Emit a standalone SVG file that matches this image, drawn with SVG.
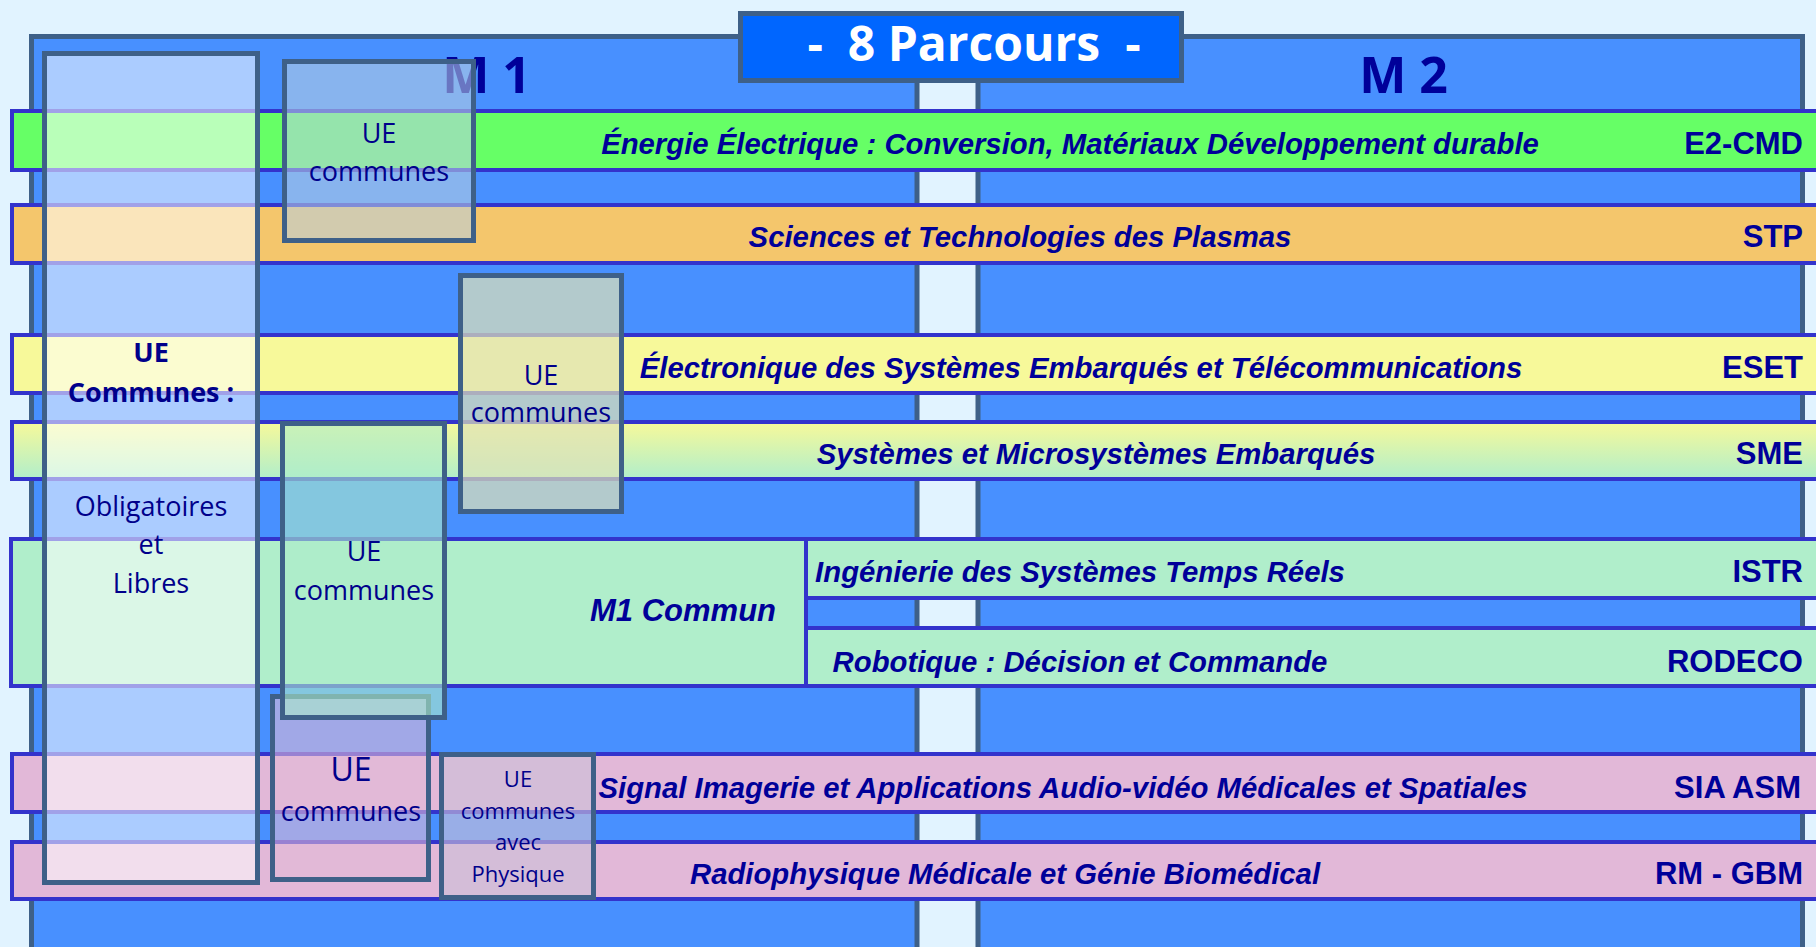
<svg xmlns="http://www.w3.org/2000/svg" width="1816" height="947" viewBox="0 0 1816 947">
<defs>
<linearGradient id="gSME" x1="0" y1="0" x2="0" y2="1">
<stop offset="0" stop-color="#F7F99A"/>
<stop offset="1" stop-color="#B0EECB"/>
</linearGradient>
</defs>
<style>
.panel{fill:#4890FF;stroke:#3E6088;stroke-width:5}
.row{stroke:#3333CC;stroke-width:4}
.lbl{font-family:"Liberation Sans",Arial,sans-serif;font-weight:bold;font-style:italic;font-size:29.3px;fill:#000099;text-anchor:middle}
.code{font-family:"Liberation Sans",Arial,sans-serif;font-weight:bold;font-size:31px;fill:#000099;text-anchor:end}
.mh{font-family:"Open Sans","Noto Sans",sans-serif;font-weight:bold;font-size:50px;fill:#000099;text-anchor:middle}
.ov{stroke:#3E6088;stroke-width:5}
.ue{font-family:"Open Sans","Noto Sans",sans-serif;font-size:27px;fill:#00008B;text-anchor:middle}
.ueb{font-family:"Open Sans","Noto Sans",sans-serif;font-weight:bold;font-size:27px;fill:#00008B;text-anchor:middle}
</style>
<rect x="0" y="0" width="1816" height="947" fill="#E1F3FF"/>

<g id="panel-m1">
<rect class="panel" x="31.5" y="36.5" width="885.5" height="1000"/>
</g>
<g id="panel-m2">
<rect class="panel" x="978" y="36.5" width="824.5" height="1000"/>
</g>

<g id="title">
<rect x="740.5" y="13.5" width="441" height="67" fill="#0066FF" stroke="#3E6088" stroke-width="5"/>
<text x="974" y="61" xml:space="preserve" style="white-space:pre" font-family="'Open Sans','Noto Sans',sans-serif" font-weight="bold" font-size="48" fill="#FFFFFF" text-anchor="middle">-  8 Parcours  -</text>
</g>

<g id="label-m1"><text class="mh" x="486.5" y="93">M 1</text></g>
<g id="label-m2"><text class="mh" x="1403.5" y="93">M 2</text></g>

<g id="row-e2cmd">
<rect class="row" x="12" y="111" width="1820" height="59" fill="#66FF66"/>
<text class="lbl" x="1070" y="153.5">Énergie Électrique : Conversion, Matériaux Développement durable</text>
<text class="code" x="1803" y="153.5">E2-CMD</text>
</g>
<g id="row-stp">
<rect class="row" x="12" y="205" width="1820" height="58" fill="#F4C66C"/>
<text class="lbl" x="1020" y="246.5">Sciences et Technologies des Plasmas</text>
<text class="code" x="1803" y="246.5">STP</text>
</g>
<g id="row-eset">
<rect class="row" x="12" y="335" width="1820" height="58" fill="#F7F99A"/>
<text class="lbl" x="1081" y="378">Électronique des Systèmes Embarqués et Télécommunications</text>
<text class="code" x="1803" y="378">ESET</text>
</g>
<g id="row-sme">
<rect class="row" x="12" y="422" width="1820" height="57" fill="url(#gSME)"/>
<text class="lbl" x="1096" y="464">Systèmes et Microsystèmes Embarqués</text>
<text class="code" x="1803" y="464">SME</text>
</g>
<g id="m1-commun">
<rect class="row" x="11" y="539" width="795" height="147" fill="#B0EECB"/>
<text class="lbl" x="683" y="621" style="font-size:31px">M1 Commun</text>
</g>
<g id="row-istr">
<rect class="row" x="806" y="539" width="1026" height="59" fill="#B0EECB"/>
<text class="lbl" x="1080" y="581.5">Ingénierie des Systèmes Temps Réels</text>
<text class="code" x="1803" y="581.5">ISTR</text>
</g>
<g id="row-rodeco">
<rect class="row" x="806" y="628" width="1026" height="58" fill="#B0EECB"/>
<text class="lbl" x="1080" y="671.5">Robotique : Décision et Commande</text>
<text class="code" x="1803" y="671.5">RODECO</text>
</g>
<g id="row-sia">
<rect class="row" x="12" y="754" width="1820" height="58" fill="#E2B8D8"/>
<text class="lbl" x="1063" y="797.5">Signal Imagerie et Applications Audio-vidéo Médicales et Spatiales</text>
<text class="code" x="1801" y="797.5">SIA ASM</text>
</g>
<g id="row-rm">
<rect class="row" x="12" y="842" width="1820" height="57" fill="#E2B8D8"/>
<text class="lbl" x="1005" y="883.5">Radiophysique Médicale et Génie Biomédical</text>
<text class="code" x="1803" y="883.5">RM - GBM</text>
</g>

<g id="ue-communes-left">
<rect class="ov" x="44.5" y="53.5" width="213" height="829" fill="#FFFFFF" fill-opacity="0.54"/>
<text class="ueb" x="151" y="362">UE</text>
<text class="ueb" x="151" y="402">Communes :</text>
<text class="ue" x="151" y="516">Obligatoires</text>
<text class="ue" x="151" y="554">et</text>
<text class="ue" x="151" y="593">Libres</text>
</g>
<g id="ue-communes-e2-stp">
<rect class="ov" x="284.5" y="61.5" width="189" height="179" fill="#B8CFE1" fill-opacity="0.57"/>
<text class="ue" x="379" y="143">UE</text>
<text class="ue" x="379" y="181">communes</text>
</g>
<g id="ue-communes-eset-sme">
<rect class="ov" x="460.5" y="275.5" width="161" height="236" fill="#DFE2B7" fill-opacity="0.71"/>
<text class="ue" x="541" y="385">UE</text>
<text class="ue" x="541" y="422">communes</text>
</g>
<g id="ue-communes-sia-rm">
<rect class="ov" x="272.5" y="696.5" width="156" height="183" fill="#E2BAD6" fill-opacity="0.58"/>
<text class="ue" x="351" y="781" style="font-size:32px">UE</text>
<text class="ue" x="351" y="821">communes</text>
</g>
<g id="ue-communes-sme-istr">
<rect class="ov" x="282.5" y="423.5" width="162" height="294" fill="#AEEDCA" fill-opacity="0.6"/>
<text class="ue" x="364" y="561">UE</text>
<text class="ue" x="364" y="600">communes</text>
</g>
<g id="ue-communes-physique">
<rect class="ov" x="441.5" y="754.5" width="152" height="143" fill="#CCC0D8" fill-opacity="0.62"/>
<text class="ue" x="518" y="787" style="font-size:22px">UE</text>
<text class="ue" x="518" y="819" style="font-size:22px">communes</text>
<text class="ue" x="518" y="850" style="font-size:22px">avec</text>
<text class="ue" x="518" y="882" style="font-size:22px">Physique</text>
</g>
</svg>
